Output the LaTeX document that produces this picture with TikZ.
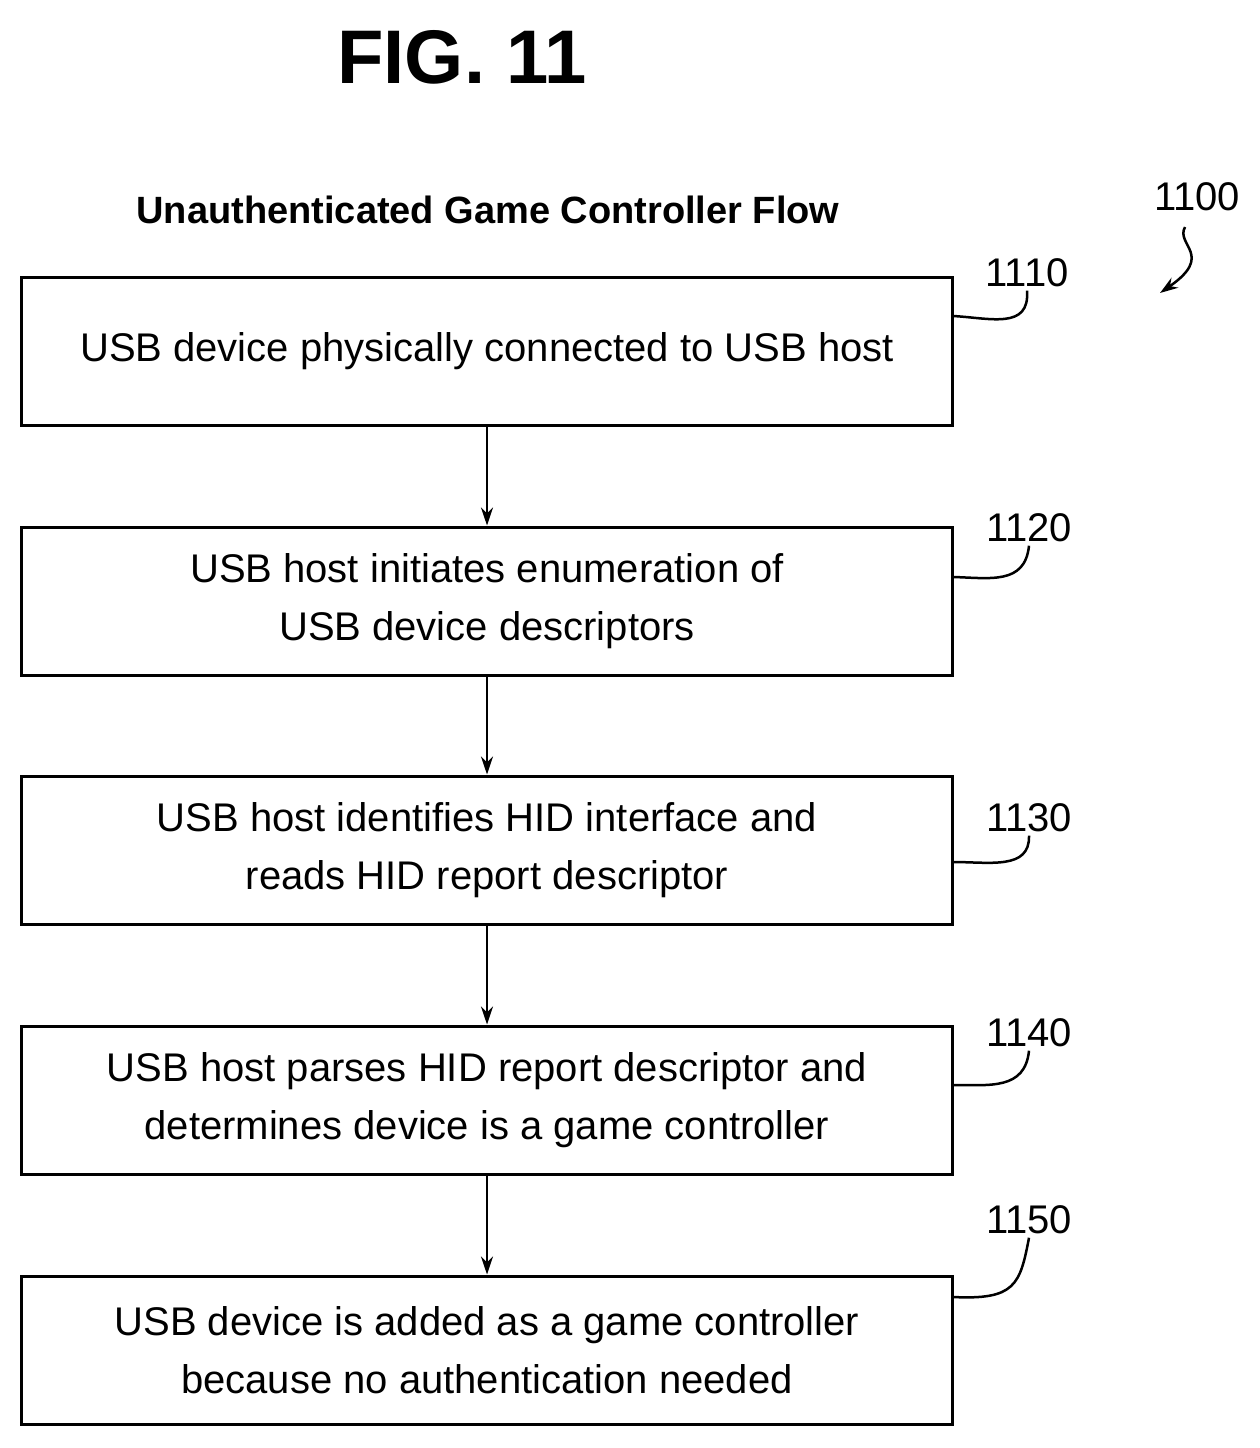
\documentclass[tikz,border=0pt]{standalone}
\usepackage{fontspec}
\setmainfont{Liberation Sans}
\usetikzlibrary{arrows.meta}
\tikzset{
  flowbox/.style={draw, line width=3pt, minimum width=931pt, minimum height=148pt, align=center,
    font=\fontsize{40}{58}\selectfont},
  flow/.style={line width=2.5pt, -{Stealth[length=18pt,width=12pt]}},
  refnum/.style={font=\fontsize{40}{42}\selectfont},
  leader/.style={line width=2.5pt}
}
\begin{document}
\begin{tikzpicture}[x=1pt,y=-1pt]
\useasboundingbox (0,0) rectangle (1260,1448);
\node[font=\fontsize{76}{80}\selectfont\bfseries] (fig) at (462,57) {FIG. 11};
\node[font=\fontsize{38}{40}\selectfont\bfseries] (title) at (488,210) {Unauthenticated Game Controller Flow};
% steps
\node[flowbox] (s1) at (487,351) {USB device physically connected to USB host};
\node[flowbox] (s2) at (487,601) {USB host initiates enumeration of\\USB device descriptors};
\node[flowbox] (s3) at (487,850) {USB host identifies HID interface and\\reads HID report descriptor};
\node[flowbox] (s4) at (487,1100) {USB host parses HID report descriptor and\\determines device is a game controller};
\node[flowbox] (s5) at (487,1350) {USB device is added as a game controller\\because no authentication needed};
\draw[flow] (s1) -- (s2);
\draw[flow] (s2) -- (s3);
\draw[flow] (s3) -- (s4);
\draw[flow] (s4) -- (s5);
% reference numerals
\node[refnum] (n1) at (1027,273) {1110};
\node[refnum] (n2) at (1029,528) {1120};
\node[refnum] (n3) at (1029,818) {1130};
\node[refnum] (n4) at (1029,1033) {1140};
\node[refnum] (n5) at (1029,1220) {1150};
\node[refnum] (n0) at (1197,197) {1100};
\draw[leader] (953,316) .. controls (990,318) and (1030,330) .. (n1.south);
\draw[leader] (953,577) .. controls (990,578) and (1025,585) .. (n2.south);
\draw[leader] (953,862) .. controls (990,862) and (1030,870) .. (n3.south);
\draw[leader] (953,1085) .. controls (990,1085) and (1025,1090) .. (n4.south);
\draw[leader] (953,1297) .. controls (1015,1300) and (1020,1285) .. (n5.south);
\draw[line width=2.5pt, -{Stealth[length=18pt,width=12pt]}] (1185,227) .. controls (1175,245) and (1215,255) .. (1160,293);
\end{tikzpicture}
\end{document}
